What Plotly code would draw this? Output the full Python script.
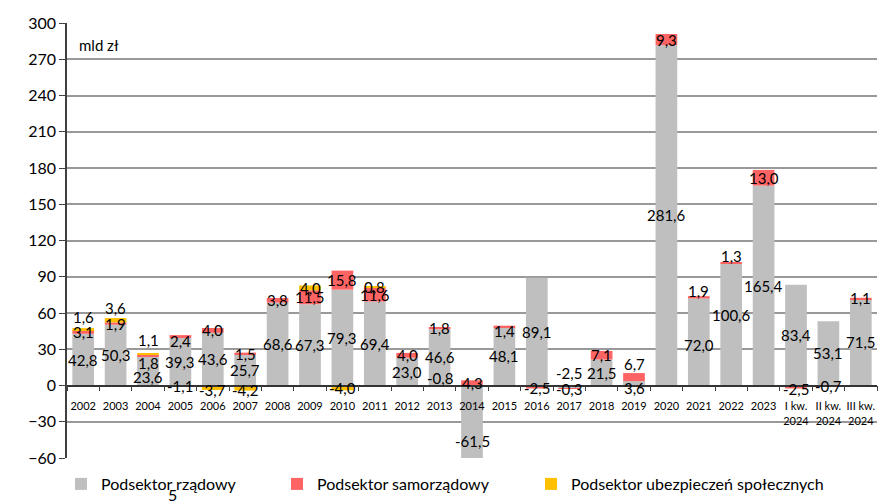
import plotly.graph_objects as go

# ---- data ----
categories = ["2002", "2003", "2004", "2005", "2006", "2007", "2008", "2009", "2010",
              "2011", "2012", "2013", "2014", "2015", "2016", "2017", "2018", "2019",
              "2020", "2021", "2022", "2023", "I kw.<br>2024", "II kw.<br>2024", "III kw.<br>2024"]
tick_labels = categories
gov = [42.8, 50.3, 23.6, 39.3, 43.6, 25.7, 68.6, 67.3, 79.3, 69.4, 23.0, 46.6, -61.5,
       48.1, 89.1, -2.5, 21.5, 3.6, 281.6, 72.0, 100.6, 165.4, 83.4, 53.1, 71.5]
local = [3.1, 1.9, 1.8, 2.4, 4.0, 1.5, 3.8, 11.5, 15.8, 11.6, 4.0, 1.8, 4.3,
         1.4, -2.5, -0.3, 7.1, 6.7, 9.3, 1.9, 1.3, 13.0, -2.5, -0.7, 1.1]
social = [1.6, 3.6, 1.1, -1.1, -3.7, -4.2, None, 4.0, -4.0, 0.8, None, -0.8, None,
          None, None, None, None, None, None, None, None, None, None, None, None]
series_names = ["Podsektor rządowy", "Podsektor samorządowy", "Podsektor ubezpieczeń społecznych"]
y_ticks = [300, 270, 240, 210, 180, 150, 120, 90, 60, 30, 0, -30, -60]
unit_label = "mld zł"

# ---- styles ----
colors = ["#BFBFBF", "#FF6464", "#FFC000"]
FONT = "Lato, 'Open Sans', sans-serif"
W, H = 888, 496  # page body has an 8px margin; figure fills the rest of the window
# label nudges (data units) for crowded labels: (series index, category index) -> dy
label_nudge = {
    (0, 2): -4.5, (0, 12): -15.5, (0, 15): 11.5, (0, 17): -4.0, (0, 19): -2.5, (0, 20): 8.0,
    (1, 2): -5.5, (1, 14): -1.0, (1, 17): 11.0, (1, 19): 5.0, (1, 20): 5.8,
    (1, 13): -3.5, (1, 3): -3.5, (1, 22): -1.6,
    (2, 0): 10.3, (2, 1): 10.0, (2, 2): 11.7, (2, 11): 7.0,
    (2, 4): -1.8, (2, 5): -1.6, (2, 13): 3.5,
}


def fmt(v):
    return f"{v:.1f}".replace(".", ",")


fig = go.Figure()
all_series = [gov, local, social]
legend_ids = ["legend", "legend2", "legend3"]
for i, (name, vals) in enumerate(zip(series_names, all_series)):
    fig.add_trace(go.Bar(
        x=categories, y=[v if v is not None else 0 for v in vals], name=name,
        marker=dict(color=colors[i], line=dict(width=0)),
        legend=legend_ids[i], hoverinfo="skip", showlegend=True,
    ))

# data labels centred on each stacked segment (relative stacking)
annotations = []
pos_base = [0.0] * len(categories)
neg_base = [0.0] * len(categories)
for si, vals in enumerate(all_series):
    for ci, v in enumerate(vals):
        if v is None:
            continue
        if v >= 0:
            lo = pos_base[ci]
            pos_base[ci] += v
        else:
            lo = neg_base[ci]
            neg_base[ci] += v
        yc = lo + v / 2 + label_nudge.get((si, ci), 0)
        annotations.append(dict(
            x=ci, y=yc, xref="x", yref="y", text=fmt(v), showarrow=False,
            font=dict(family=FONT, size=15, color="#000000"),
        ))

annotations.append(dict(x=0.012, y=0.95, xref="paper", yref="paper", text=unit_label,
                        showarrow=False, xanchor="left", yanchor="middle",
                        font=dict(family=FONT, size=15, color="#000000")))
annotations.append(dict(x=(172 - 67) / 810, y=(458 - 494) / 435, xref="paper", yref="paper",
                        text="5", showarrow=False, xanchor="center", yanchor="middle",
                        font=dict(family=FONT, size=16, color="#000000")))

zero_pos = (0 - y_ticks[-1]) / (y_ticks[0] - y_ticks[-1])

legend_common = dict(orientation="h", yanchor="middle", xanchor="left",
                     font=dict(family=FONT, size=16, color="#000000"),
                     bgcolor="rgba(0,0,0,0)", itemwidth=30,
                     xref="container", yref="container", y=(H - 476) / H)

fig.update_layout(
    width=W, height=H,
    barmode="relative", bargap=0.33,
    plot_bgcolor="white", paper_bgcolor="white",
    margin=dict(l=59, r=19, t=15, b=46, autoexpand=False),
    font=dict(family=FONT, color="#000000"),
    annotations=annotations,
    showlegend=True,
    legend=dict(**legend_common, x=53 / W),
    legend2=dict(**legend_common, x=269 / W),
    legend3=dict(**legend_common, x=523 / W),
    xaxis=dict(
        type="category", range=[-0.5, len(categories) - 0.5],
        anchor="free", position=zero_pos, automargin=False,
        showline=True, linecolor="#333333", linewidth=1.5,
        ticks="outside", tickson="boundaries", ticklen=5, tickcolor="#404040",
        tickfont=dict(family=FONT, size=11, color="#000000"), tickangle=0,
        ticklabelstandoff=11,
        showgrid=False, zeroline=False, fixedrange=True,
    ),
    yaxis=dict(
        range=[y_ticks[-1], y_ticks[0]], tickvals=y_ticks, automargin=False,
        showgrid=True, gridcolor="#999999", gridwidth=1.5,
        zeroline=False,
        showline=True, linecolor="#404040", linewidth=1.5,
        ticks="outside", ticklen=6, tickcolor="#404040",
        tickfont=dict(family=FONT, size=16, color="#000000"),
        fixedrange=True,
    ),
)

fig.write_html("out.html")
